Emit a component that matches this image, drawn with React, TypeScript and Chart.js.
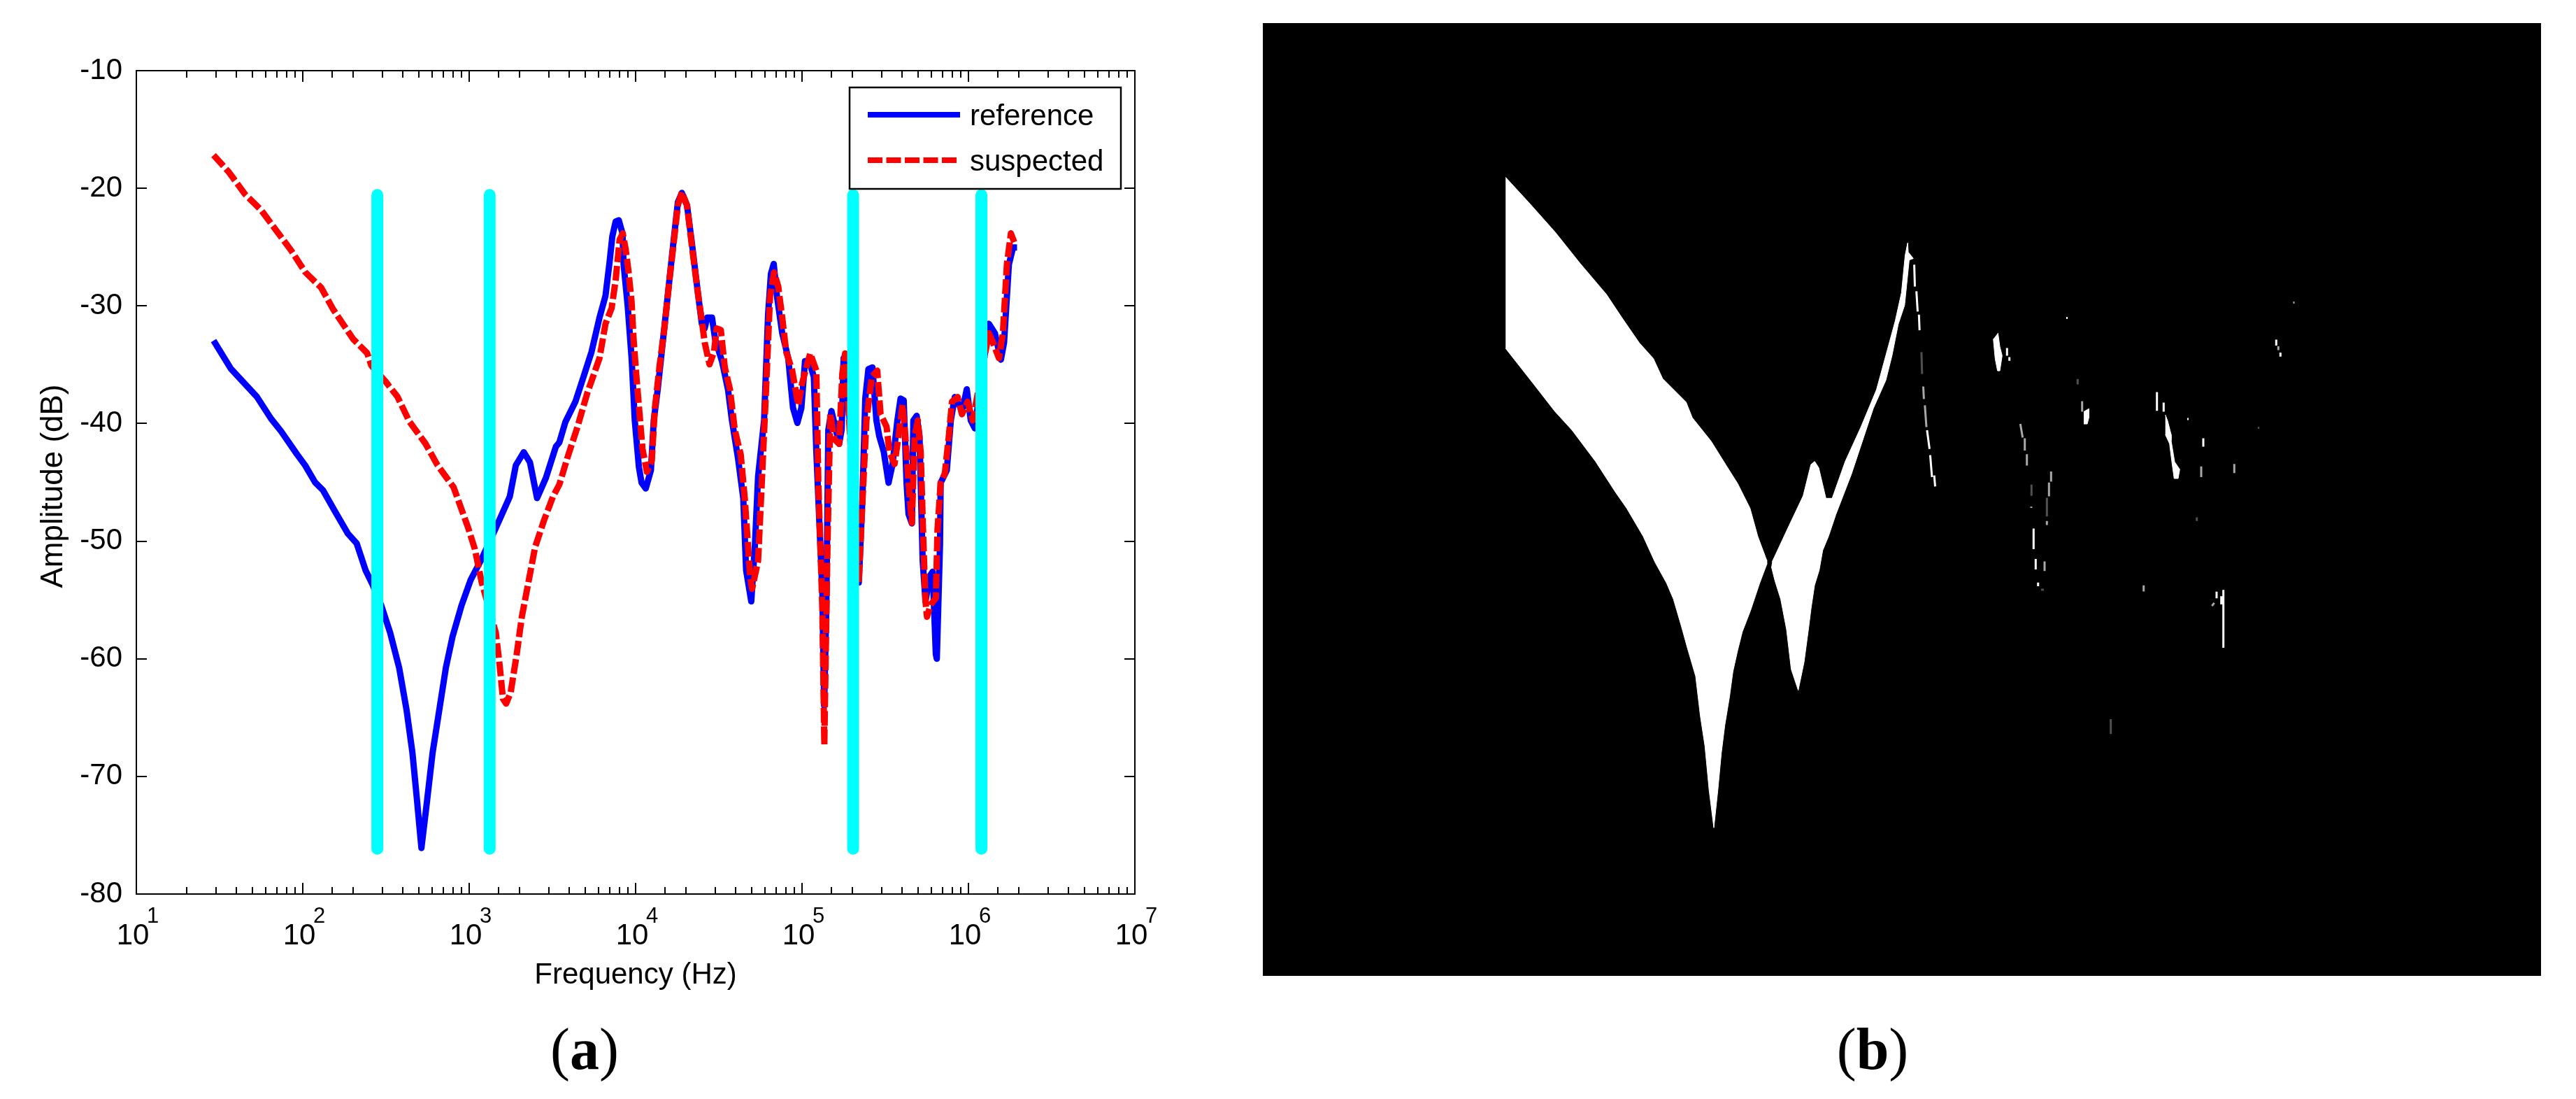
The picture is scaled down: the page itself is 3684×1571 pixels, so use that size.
import React, { useEffect, useRef } from "react";
import { Chart, registerables } from "chart.js";

Chart.register(...registerables);

const FONT = '"Liberation Sans", Arial, sans-serif';

const yTicks = [-80, -70, -60, -50, -40, -30, -20, -10];
const seriesNames = ["reference", "suspected"];
const xTitle = "Frequency (Hz)";
const yTitle = "Amplitude (dB)";
const captions = ["a", "b"];

// log10 of frequency / amplitude in dB
const referenceLogHz = [1.464,1.568,1.724,1.809,1.869,1.966,2.014,2.074,2.122,2.19,2.271,2.324,2.378,2.418,2.472,2.525,2.579,2.624,2.659,2.686,2.713,2.745,2.78,2.82,2.86,2.9,2.954,3.008,3.075,3.155,3.244,3.28,3.328,3.365,3.408,3.461,3.521,3.542,3.578,3.638,3.687,3.735,3.783,3.819,3.844,3.86,3.88,3.899,3.921,3.928,3.952,3.976,3.995,4.02,4.036,4.061,4.092,4.109,4.133,4.157,4.181,4.205,4.229,4.254,4.278,4.309,4.338,4.374,4.398,4.415,4.43,4.459,4.478,4.519,4.555,4.579,4.615,4.647,4.664,4.695,4.717,4.736,4.772,4.796,4.813,4.83,4.849,4.881,4.917,4.946,4.972,4.996,5.018,5.042,5.071,5.086,5.098,5.122,5.133,5.146,5.158,5.177,5.206,5.223,5.238,5.25,5.264,5.341,5.363,5.38,5.399,5.423,5.447,5.464,5.491,5.52,5.544,5.573,5.592,5.611,5.628,5.64,5.66,5.669,5.689,5.706,5.725,5.742,5.766,5.785,5.804,5.81,5.829,5.833,5.87,5.894,5.918,5.942,5.966,5.99,6.014,6.038,6.123,6.159,6.195,6.214,6.243,6.268,6.292];
const referenceDb = [-32.95,-35.34,-37.72,-39.58,-40.64,-42.63,-43.55,-45,-45.68,-47.38,-49.36,-50.19,-52.5,-53.65,-55.47,-57.78,-60.75,-64.38,-68,-71.96,-76.09,-72.29,-68,-64.38,-60.75,-58.11,-55.47,-53.32,-51.51,-49.03,-46.21,-43.56,-42.44,-43.29,-46.34,-44.62,-41.96,-41.6,-39.87,-38.15,-36.03,-33.91,-30.99,-29.14,-26.22,-24.1,-22.83,-22.72,-23.83,-26.48,-29.93,-34.44,-39.74,-43.72,-45.04,-45.52,-43.98,-39.74,-37.09,-33.91,-30.73,-27.55,-24.36,-21.18,-20.39,-21.45,-24.63,-28.87,-31.52,-31.92,-30.99,-30.99,-32.85,-34.7,-37.09,-39.74,-42.92,-46.37,-52.47,-55.12,-50.34,-44.51,-39.74,-30.73,-27.28,-26.43,-29.14,-32.32,-34.44,-38.68,-39.95,-38.68,-34.7,-34.65,-36.03,-42.39,-46.37,-54.32,-64,-55.65,-40.54,-38.94,-40.67,-41.73,-40.54,-34.44,-34.17,-53.52,-46.37,-37.88,-35.37,-35.23,-39.74,-41.07,-42.39,-45.04,-43.45,-39.74,-37.88,-38.02,-45.04,-47.69,-48.49,-39.74,-39.34,-41.07,-51.67,-55.12,-53,-52.6,-59.62,-60,-50.34,-45.04,-43.98,-39.74,-37.75,-38.41,-38.68,-37.09,-39.74,-40.4,-31.52,-32.32,-34.57,-33.11,-26.48,-25.03,-25.03];
const suspectedLogHz = [1.464,1.556,1.652,1.748,1.845,1.929,2.014,2.11,2.183,2.303,2.387,2.412,2.496,2.569,2.641,2.737,2.81,2.906,2.994,3.034,3.075,3.16,3.182,3.203,3.222,3.249,3.284,3.316,3.356,3.396,3.45,3.503,3.542,3.59,3.651,3.711,3.783,3.819,3.856,3.88,3.904,3.923,3.94,3.957,3.976,3.988,4.005,4.024,4.041,4.068,4.097,4.116,4.145,4.174,4.205,4.229,4.254,4.278,4.309,4.338,4.374,4.398,4.415,4.444,4.471,4.487,4.512,4.536,4.567,4.596,4.632,4.656,4.688,4.7,4.736,4.76,4.784,4.808,4.832,4.857,4.881,4.905,4.941,4.977,5.001,5.049,5.086,5.098,5.122,5.134,5.153,5.17,5.194,5.223,5.242,5.259,5.341,5.363,5.387,5.419,5.452,5.472,5.508,5.525,5.556,5.58,5.604,5.621,5.64,5.66,5.677,5.696,5.713,5.73,5.742,5.751,5.773,5.804,5.814,5.833,5.858,5.882,5.901,5.935,5.961,5.995,6.026,6.123,6.147,6.183,6.207,6.231,6.255,6.28];
const suspectedDb = [-17.18,-18.63,-20.49,-21.82,-23.67,-25.26,-27.12,-28.44,-30.3,-32.82,-34.01,-35.07,-36.4,-37.72,-39.84,-41.7,-43.55,-45.41,-48.87,-50.68,-53.49,-57.78,-60.42,-63.39,-63.81,-62.89,-59.76,-56.46,-53.49,-50.52,-48.21,-46.23,-45.18,-42.92,-40.27,-37.35,-34.44,-31.52,-30.18,-27.81,-24.36,-23.83,-25.16,-27.01,-29.67,-32.85,-36.03,-39.21,-42.13,-44.11,-43.19,-38.68,-34.97,-31.79,-27.55,-24.63,-21.45,-20.33,-21.45,-24.89,-28.87,-31.26,-33.11,-34.97,-33.91,-31.92,-32.05,-35.23,-37.09,-40.54,-42.66,-46.37,-53,-54.06,-51.67,-44.51,-37.09,-29.14,-27.15,-28.34,-30.99,-33.91,-35.5,-38.41,-36.56,-34.04,-35.5,-45.04,-55.65,-67.3,-50.34,-39.21,-41.33,-41.73,-35.76,-34.04,-53.52,-46.63,-39.74,-36.03,-35.5,-39.21,-40.27,-42.39,-43.45,-41.07,-38.41,-41.07,-45.04,-48.44,-41.07,-39.74,-42.39,-50.34,-55.12,-56.44,-55.38,-54.85,-49.02,-45.04,-44.25,-41.07,-38.15,-37.75,-39.21,-38.15,-39.74,-32.32,-33.11,-34.44,-32.32,-26.48,-23.83,-24.76];

// Cyan band markers: log10 frequency, and the dB span they cover
const bandLogHz = [2.448, 3.123, 5.307, 6.078];
const bandDbTop = -20.57;
const bandDbBottom = -76.15;

// Panel (b) is a binary mask: values are image column / row
const loopACols = [347.2,382,417.8,453.5,491.4,513.7,538.3,558.4,571.8,605.3,614.2,641,663.3,678.9,696.8,707.9,720.4,720.7,710.7,697.3,685.7,679,672.3,667.3,660.7,655.7,650.7,645,638.3,632.3,625.7,619,607.3,599,587.3,577.3,560.7,544,520.4,504.8,475.8,442.3,417.8,386.5,347.2];
const loopARows = [220.4,258.3,298.5,343.2,387.8,421.3,457,479.3,508.3,541.8,564.1,597.6,633.3,657.9,693.6,733.8,767.3,773.7,800.3,840.3,870.3,897,927,963.7,1003.7,1043.7,1097,1150.3,1097,1033.7,990.3,933.7,893.7,863.7,823.7,800.3,770.3,733.7,693.6,671.3,626.6,582,555.2,515,465];
const loopBCols = [728.3,752.6,772.7,783.8,789.2,795,805.3,814.2,832.9,855.3,877.6,891,904.4,913.3,918.6,922.2,923.1,930.3,924.4,917.8,908.8,899.9,891,873.1,859.7,841.9,819.5,809,800.7,795.7,789,784,780.7,774,765.7,755.7,749,740.7,732.3,727.3];
const loopBRows = [770.3,718.2,675.8,631.1,626.6,635.6,679.3,679.3,626.6,577.5,524,474.9,425.8,385.6,332,314.1,327.5,336.5,338.7,403.4,430.2,474.9,510.6,550.8,590.9,644.5,702.5,733.7,753.7,782,803.7,837,863.7,913.7,953.7,923.7,867,823.7,797,777];
const blobCCols = [1051.3,1054,1057.3,1054,1050.7,1047.3,1044.7];
const blobCRows = [442.9,462.4,475.4,497.1,497.1,479.7,451.6];
const blobDCols = [1174,1181.3,1181.3,1179,1174];
const blobDRows = [555.6,551.3,564.3,573,573];
const blobECols = [1290.7,1294,1299,1299,1304,1311.3,1309,1303.3,1300,1296.7,1290.7];
const blobERows = [560,568.6,588.2,596.8,627.2,638,651,651,627.2,601.2,588.2];

// column1, row1, column2, row2 of each speck
const brightSpecks = [
  [931.6,345.4,932.5,376.6],[934.7,383.3,936.5,412.4],[938.3,416.8,939.2,439.1],[949.9,582,953.5,608.8],[954.4,617.7,957,649],[960.2,646.7,961.5,662.4],
  [1064.3,464.6,1064.3,475.4],[1067.7,477.6,1067.7,482.8],[1149,421.6,1151,421.6],[1099,691.4,1099,692.8],[1102.3,722.6,1102.3,752.1],[1105.3,766,1105.3,781.1],[1108.7,799.8,1108.7,805],
  [1278.7,527.5,1278.7,554.3],[1288.3,542.6,1288.3,555.6],[1322,566,1324,566],[1345,593.4,1345,605.5],[1449.3,452.4,1449.3,461.1],[1455.3,471.1,1455.3,476.7],
  [1373.7,810.2,1373.7,893],[1370.7,819.3,1370.7,831],[1364,812.8,1364,822.3],
];
const graySpecks = [
  [944.5,519.5,945.4,537.4],[946.8,546.3,949,577.5],[1171.7,540.5,1171.7,555.6],[1083.3,573,1086.7,592.5],[1089.7,593.4,1089.7,611.1],[1092.7,616.3,1092.7,632.4],[1118,769.4,1118,783.3],
  [1127.3,641,1127.3,655.4],[1124.3,656.7,1124.3,676.6],[1121.3,711.8,1121.3,717.4],[1342,633.7,1342,648.9],[1389.3,630.2,1389.3,643.2],[1452.3,462,1452.3,467.6],[1473.5,399.5,1475.5,399.5],
  [1259.7,803.7,1259.7,812.4],[1360.7,828.8,1357.3,833.2],
];
const dimSpecks = [
  [941.9,470.4,942.8,501.6],[1165.3,508.8,1165.3,516.6],[1099.3,659.7,1099.3,675.8],[1113,810,1117,810],[1121.3,678.4,1121.3,705.2],[1335.7,706.6,1335.7,711.8],[1423,578.6,1425,578.6],[1212.7,994.9,1212.7,1016.2],
];

const zip = (xs: number[], ys: number[]) => xs.map((x, i) => ({ x, y: ys[i] }));
const gap = { x: null as any, y: null as any };

const curve = (logHz: number[], db: number[]) => logHz.map((l, i) => ({ x: Math.pow(10, l), y: db[i] }));

const specksToPoints = (list: number[][]) =>
  list.flatMap((s) => [{ x: s[0], y: s[1] }, { x: s[2], y: s[3] }, gap]);

const isDecade = (v: number) => {
  const l = Math.log10(v);
  return Math.abs(l - Math.round(l)) < 1e-6;
};

const axesPlugin = {
  id: "matlabAxes",
  afterDatasetsDraw(chart: any) {
    const { ctx, chartArea: a, scales } = chart;
    ctx.save();
    ctx.strokeStyle = "#000";
    ctx.fillStyle = "#000";
    ctx.lineWidth = 2;
    ctx.setLineDash([]);
    ctx.strokeRect(a.left, a.top, a.right - a.left, a.bottom - a.top);
    ctx.beginPath();
    for (const t of scales.x.ticks) {
      const px = Math.round(scales.x.getPixelForValue(t.value));
      const len = isDecade(t.value) ? 16 : 10;
      ctx.moveTo(px, a.bottom);
      ctx.lineTo(px, a.bottom - len);
      ctx.moveTo(px, a.top);
      ctx.lineTo(px, a.top + len);
    }
    for (const t of scales.y.ticks) {
      const py = Math.round(scales.y.getPixelForValue(t.value));
      ctx.moveTo(a.left, py);
      ctx.lineTo(a.left + 15, py);
      ctx.moveTo(a.right, py);
      ctx.lineTo(a.right - 15, py);
    }
    ctx.stroke();

    // decade exponents
    ctx.font = `31px ${FONT}`;
    ctx.textAlign = "left";
    ctx.textBaseline = "alphabetic";
    for (const t of scales.x.ticks) {
      if (!isDecade(t.value)) continue;
      ctx.fillText(String(Math.round(Math.log10(t.value))), scales.x.getPixelForValue(t.value) + 15, 1319);
    }

    // y axis title
    ctx.save();
    ctx.translate(89, 695);
    ctx.rotate(-Math.PI / 2);
    ctx.textAlign = "center";
    ctx.font = `44px ${FONT}`;
    ctx.fillText(yTitle, 0, 0);
    ctx.restore();

    // inset legend
    ctx.fillStyle = "#fff";
    ctx.fillRect(1215, 125, 388, 145);
    ctx.lineWidth = 2.5;
    ctx.strokeRect(1215, 125, 388, 145);
    const rows = [
      { i: 1, lineY: 164, textY: 179 },
      { i: 0, lineY: 229, textY: 244 },
    ];
    for (const r of rows) {
      const ds = chart.data.datasets[r.i];
      ctx.strokeStyle = ds.borderColor;
      ctx.lineWidth = 8;
      ctx.setLineDash(ds.borderDash || []);
      ctx.beginPath();
      ctx.moveTo(1241, r.lineY);
      ctx.lineTo(1373, r.lineY);
      ctx.stroke();
      ctx.setLineDash([]);
      ctx.fillStyle = "#000";
      ctx.font = `42px ${FONT}`;
      ctx.fillText(ds.label, 1387, r.textY);
    }
    ctx.restore();
  },
};

const App = () => {
  const leftRef = useRef<HTMLCanvasElement>(null);
  const rightRef = useRef<HTMLCanvasElement>(null);

  useEffect(() => {
    document.body.style.margin = "0";
    const left = new Chart(leftRef.current as any, {
      type: "scatter",
      data: {
        datasets: [
          {
            label: seriesNames[1],
            data: curve(suspectedLogHz, suspectedDb),
            borderColor: "#ff0000",
            borderWidth: 9,
            borderDash: [21, 5.5],
            showLine: true,
            pointRadius: 0,
            borderJoinStyle: "round",
            order: 1,
          },
          {
            label: seriesNames[0],
            data: curve(referenceLogHz, referenceDb),
            borderColor: "#0000ff",
            borderWidth: 9,
            showLine: true,
            pointRadius: 0,
            borderJoinStyle: "round",
            order: 2,
          },
          {
            label: "bands",
            data: bandLogHz.flatMap((l) => [
              { x: Math.pow(10, l), y: bandDbTop },
              { x: Math.pow(10, l), y: bandDbBottom },
              gap,
            ]),
            borderColor: "#00ffff",
            borderWidth: 17,
            borderCapStyle: "round",
            showLine: true,
            pointRadius: 0,
            order: 0,
          },
        ],
      },
      options: {
        responsive: false,
        animation: false,
        events: [],
        layout: { padding: { top: 101, right: 97, left: 0, bottom: 0 } },
        plugins: { legend: { display: false }, tooltip: { enabled: false } },
        scales: {
          x: {
            type: "logarithmic",
            min: 10,
            max: 1e7,
            grid: { display: false },
            border: { display: false },
            ticks: {
              autoSkip: false,
              maxRotation: 0,
              minRotation: 0,
              labelOffset: -5,
              padding: 27,
              color: "#000",
              font: { family: FONT, size: 42 },
              callback: (v: any) => (isDecade(Number(v)) ? "10" : ""),
            },
            title: {
              display: true,
              text: xTitle,
              color: "#000",
              font: { family: FONT, size: 42 },
              padding: { top: 0, bottom: 151 },
            },
            afterFit: (s: any) => {
              s.height = 293;
            },
          },
          y: {
            type: "linear",
            min: yTicks[0],
            max: yTicks[yTicks.length - 1],
            grid: { display: false },
            border: { display: false },
            ticks: {
              stepSize: 10,
              padding: 12,
              color: "#000",
              font: { family: FONT, size: 42 },
            },
            afterFit: (s: any) => {
              s.width = 195;
            },
          },
        },
      },
      plugins: [axesPlugin],
    } as any);

    const shape = (xs: number[], ys: number[]) => ({
      data: zip(xs, ys),
      showLine: true,
      pointRadius: 0,
      borderColor: "#fff",
      backgroundColor: "#fff",
      borderWidth: 1,
      fill: "shape",
    });
    const specks = (list: number[][], color: string) => ({
      data: specksToPoints(list),
      showLine: true,
      pointRadius: 0,
      borderColor: color,
      borderWidth: 3,
      fill: false,
    });
    const right = new Chart(rightRef.current as any, {
      type: "scatter",
      data: {
        datasets: [
          shape(loopACols, loopARows),
          shape(loopBCols, loopBRows),
          shape(blobCCols, blobCRows),
          shape(blobDCols, blobDRows),
          shape(blobECols, blobERows),
          specks(brightSpecks, "#ffffff"),
          specks(graySpecks, "#a8a8a8"),
          specks(dimSpecks, "#505050"),
        ],
      },
      options: {
        responsive: false,
        animation: false,
        events: [],
        layout: { padding: 0 },
        plugins: { legend: { display: false }, tooltip: { enabled: false } },
        scales: {
          x: { type: "linear", min: 0, max: 1828, display: false },
          y: { type: "linear", min: 0, max: 1362, reverse: true, display: false },
        },
      },
    } as any);

    return () => {
      left.destroy();
      right.destroy();
    };
  }, []);

  const captionStyle = (leftPx: number): React.CSSProperties => ({
    position: "absolute",
    left: leftPx,
    top: 1452,
    width: 200,
    textAlign: "center",
    fontFamily: '"Liberation Serif", serif',
    fontSize: 84,
    lineHeight: "96px",
    color: "#000",
  });

  return (
    <div style={{ position: "absolute", left: 0, top: 0, width: 3684, height: 1571, background: "#fff", overflow: "hidden" }}>
      <canvas ref={leftRef} width={1720} height={1571} style={{ position: "absolute", left: 0, top: 0 }} />
      <canvas ref={rightRef} width={1828} height={1362} style={{ position: "absolute", left: 1806, top: 33, background: "#000" }} />
      <div style={captionStyle(736)}>(<b>{captions[0]}</b>)</div>
      <div style={captionStyle(2578)}>(<b>{captions[1]}</b>)</div>
    </div>
  );
};

export default App;
